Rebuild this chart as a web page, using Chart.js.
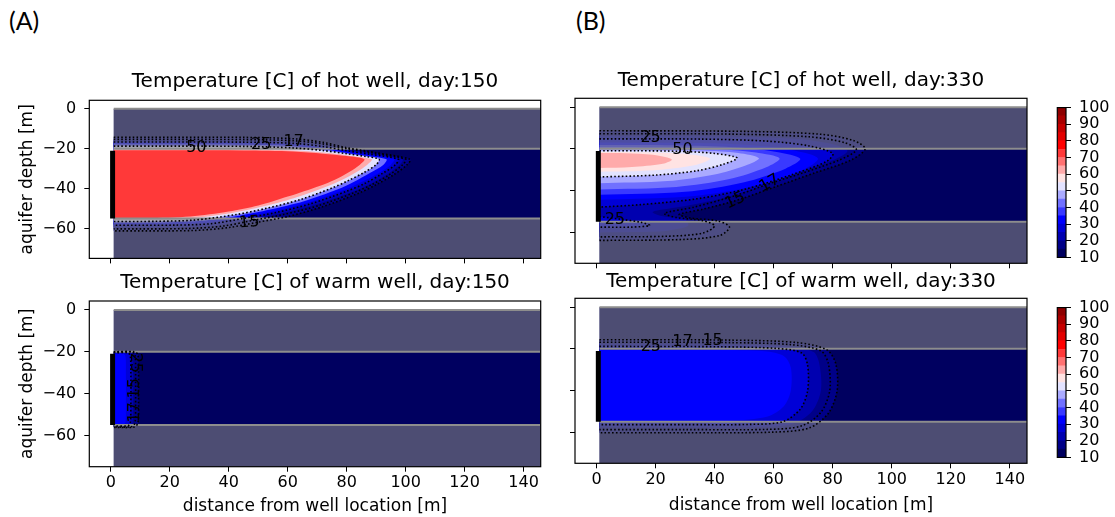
<!DOCTYPE html>
<html>
<head>
<meta charset="utf-8">
<script src="https://cdn.jsdelivr.net/npm/chart.js"></script>
<style>
  body { margin: 0; width: 1115px; height: 517px; background: #fff; position: relative; overflow: hidden; }
  canvas { position: absolute; }
  .tag { position: absolute; font-family: Lato, "Open Sans", sans-serif; font-size: 25px; color: #000; }
</style>
</head>
<body>
<div class="tag" style="left:9px; top:5px">(A)</div>
<div class="tag" style="left:576px; top:5px">(B)</div>
<canvas id="hot150" width="560" height="206" style="left:0px; top:70px"></canvas>
<canvas id="warm150" width="560" height="246" style="left:0px; top:271px"></canvas>
<canvas id="hot330" width="480" height="204" style="left:560px; top:69px"></canvas>
<canvas id="warm330" width="480" height="247" style="left:560px; top:270px"></canvas>
<canvas id="cbar1" width="67" height="185" style="left:1048px; top:90px"></canvas>
<canvas id="cbar2" width="67" height="185" style="left:1048px; top:290px"></canvas>
<script>
  // axis ticks and layer depths [m]
  const xTicks = [0, 20, 40, 60, 80, 100, 120, 140];
  const yTicks = [0, -20, -40, -60];
  const aquiferTop = -20;
  const aquiferBottom = -55;
  const wellTop = -21;
  const wellBottom = -55;

  // contour levels of the colour scale [C]
  const cbLevels = [10, 15, 20, 25, 30, 35, 40, 45, 50, 55, 60, 65, 70, 75, 80, 85, 90, 95, 100];
  const cbTicks = [10, 20, 30, 40, 50, 60, 70, 80, 90, 100];
  const dottedLevels = [15, 17, 25, 50];

  // hot well, day 150: outlines of T > level, [x, depth]
  const hot150Levels = [15, 17, 20, 25, 30, 40, 50, 60, 70];
  const hot150Outlines = [
    [[1,-14.2],[45,-14.3],[62,-15],[72,-16.8],[80,-19.5],[90,-22],[101.5,-25.3],[100.5,-28],[96,-33],[90,-38],[84,-42.3],[72,-49],[60,-54],[50,-56.8],[40,-59.5],[28,-61],[1,-61.2]],
    [[1,-15.3],[45,-15.4],[62,-16],[72,-17.6],[80,-20],[89,-22.2],[100,-25.3],[99,-28],[94.5,-33],[88.5,-38],[82.5,-42],[70.5,-48.5],[58.5,-53],[48,-56],[38,-58.8],[26,-60],[1,-60.2]],
    [[1,-15.9],[45,-16],[62,-16.6],[72,-18.2],[80,-20.4],[88.5,-22.4],[99,-25.3],[98,-28],[93.5,-33],[87.5,-38],[81.5,-41.8],[69.5,-48],[57.5,-52.5],[47,-55.5],[36,-58.2],[24,-59.3],[1,-59.4]],
    [[1,-16.6],[45,-16.7],[62,-17.3],[72,-18.9],[80,-21],[88,-22.8],[97.5,-25.3],[96.5,-28],[92,-32.5],[86,-37.5],[80,-41.3],[68,-47.5],[56,-52],[45.5,-54.8],[34,-57.6],[22,-58.3],[1,-58.4]],
    [[1,-17.1],[45,-17.2],[62,-17.9],[72,-19.5],[80,-21.5],[87.5,-23.1],[96,-25.3],[95,-28],[90.5,-32.5],[84.5,-37],[78.5,-41],[67,-47],[55,-51.3],[44.5,-54.3],[32,-57],[20,-57.7],[1,-57.8]],
    [[1,-17.9],[45,-18],[62,-18.7],[72,-20.2],[80,-22.1],[87,-23.6],[93.5,-25.3],[92.5,-28],[88,-32],[82.5,-36.5],[77,-40.3],[65.5,-46.3],[54,-50.5],[43.5,-53.6],[30,-56.3],[18,-57],[1,-57.1]],
    [[1,-18.7],[45,-18.8],[62,-19.6],[72,-20.9],[80,-22.5],[86.5,-23.9],[91,-25.3],[90,-28],[86,-31.8],[80.5,-36],[75,-39.7],[64,-45.6],[53,-49.8],[42.5,-53],[28,-55.8],[15,-56.4],[1,-56.5]],
    [[1,-20.3],[45,-20.4],[62,-20.9],[72,-21.9],[80,-23.2],[88.5,-25.3],[87,-28],[83.5,-31.5],[78.5,-35.5],[73,-39],[62,-44.8],[51.5,-49],[41,-52.2],[27,-54.8],[12,-55.4],[1,-55.5]],
    [[1,-20.8],[45,-20.9],[62,-21.4],[72,-22.5],[80,-23.7],[86,-25.3],[84.5,-28],[81,-31.5],[76,-35.5],[71,-38.5],[60,-44],[50,-48.5],[40,-51.5],[27,-54],[12,-54.9],[1,-55.1]]
  ];
  const hot150Labels = [['50', 29, -19.3, 0], ['25', 51, -18, 0], ['17', 62, -16.5, 0], ['15', 47, -57, -5]];

  // warm well, day 150
  const warm150Levels = [15, 17, 20, 25, 30];
  const warm150Outlines = [
    [[1,-20],[8,-20],[9.2,-21.5],[9.4,-30],[9.4,-45],[9.2,-54],[8,-56],[1,-56.2]],
    [[1,-20.1],[7.2,-20.1],[8.2,-21.5],[8.4,-30],[8.4,-45],[8.2,-54],[7.2,-55.8],[1,-56]],
    [[1,-20.3],[6.5,-20.3],[7.4,-21.7],[7.6,-30],[7.6,-45],[7.4,-54],[6.5,-55.6],[1,-55.8]],
    [[1,-20.5],[5.8,-20.5],[6.6,-22],[6.8,-30],[6.8,-45],[6.6,-54],[5.8,-55.4],[1,-55.5]],
    [[1,-21],[4.3,-21],[5,-22.5],[5.1,-30],[5.1,-45],[5,-53.5],[4.3,-55],[1,-55.1]]
  ];
  const warm150Labels = [['25', 8.2, -25.3, 90], ['15', 8.2, -37.5, -90], ['17', 8.2, -49, -90]];

  // hot well, day 330
  const hot330Levels = [15, 17, 20, 25, 25, 30, 35, 40, 45, 50, 55, 60];
  const hot330Outlines = [
    [[1,-11.3],[50,-11.6],[76,-13],[87,-16],[91,-20],[86,-25.5],[74,-31.5],[61,-38],[48,-44.5],[36,-49],[28,-51.5],[32,-53.3],[41,-54.6],[45,-57.5],[42,-61.5],[30,-63.5],[1,-64]],
    [[1,-12.7],[45,-12.9],[72,-14.2],[84,-17],[88,-20.5],[82,-25.5],[70,-31.5],[59,-36.5],[47,-42.5],[33,-48],[23,-51],[27,-53],[36,-54.5],[40,-57],[36,-60.5],[24,-62],[1,-62.3]],
    [[1,-13.9],[45,-14.1],[68,-15.3],[80,-17.8],[85,-21],[80,-25.5],[68,-32],[55,-38.5],[42,-44],[28,-48],[19,-50.3],[22,-52.3],[30,-54],[31,-57],[24,-59.3],[12,-60],[1,-60.2]],
    [[1,-15.2],[35,-15.3],[58,-16.3],[72,-18.6],[80,-22.2],[78,-26],[66,-32.5],[50,-39.5],[34,-44],[15,-46.8],[1,-48]],
    [[1,-52.5],[8,-53.8],[15,-55.3],[18,-56.8],[12,-57.6],[1,-57.6]],
    [[1,-17],[35,-17.2],[54,-18.4],[67,-20.8],[75,-24.6],[70,-30],[56,-37],[34,-42.5],[1,-44.5]],
    [[1,-18.2],[30,-18.4],[48,-19.4],[61,-21.5],[69,-24.8],[64,-29.5],[50,-36],[30,-40.6],[1,-42]],
    [[1,-19.2],[25,-19.4],[42,-20.2],[54,-21.8],[62,-24.6],[57.5,-28.8],[45,-34.5],[27,-38.3],[1,-39.5]],
    [[1,-20.2],[20,-20.3],[36,-20.8],[48,-22],[55,-24.5],[50.5,-28],[40,-32.3],[24,-35.5],[1,-36.5]],
    [[1,-20.9],[14,-20.9],[28,-21.2],[40,-22.2],[47.6,-24.4],[43,-27.4],[34,-30.5],[20,-32.6],[1,-33.5]],
    [[1,-21.5],[15,-21.6],[28,-22.2],[35,-23.3],[38.5,-24.8],[34,-27.6],[22,-30],[10,-30.8],[1,-31]],
    [[1,-22],[10,-22.1],[19,-22.8],[24,-24.2],[25.5,-25.3],[22,-27.3],[12,-28.7],[1,-29.2]]
  ];
  const hot330Labels = [['25', 18.3, -14.5, 0], ['50', 29.1, -20.5, 0], ['25', 6.2, -54.2, 0], ['15', 47, -44.9, -25], ['17', 58.6, -36.6, -30]];

  // warm well, day 330
  const warm330Levels = [15, 17, 20, 25, 30];
  const warm330Outlines = [
    [[1,-15.6],[45,-15.8],[68,-17],[78,-20.5],[81,-27],[81.5,-40],[78.5,-51],[72,-58],[60,-60],[30,-60.3],[1,-60.3]],
    [[1,-16.8],[45,-17],[66,-18],[76,-21],[78.5,-27],[79,-40],[76,-50.5],[69.5,-57],[58,-58.7],[30,-58.8],[1,-58.8]],
    [[1,-17.8],[45,-18],[64,-18.9],[73.5,-21.5],[75.5,-27.5],[76,-40],[73,-50],[66.5,-56],[55,-57.6],[30,-57.7],[1,-57.7]],
    [[1,-18.8],[42,-19],[61,-19.8],[69.5,-22],[71.5,-28],[71.5,-40],[69,-49],[63,-55],[52,-56.3],[30,-56.4],[1,-56.4]],
    [[1,-20.6],[40,-20.6],[57,-21.2],[63.5,-23.5],[65.8,-29],[65.8,-40],[63.5,-47.5],[58,-52.5],[45,-54.5],[20,-54.9],[1,-55]]
  ];
  const warm330Labels = [['25', 18.4, -19.2, 0], ['17', 29.1, -16.8, 0], ['15', 39.3, -16.3, 0]];

  // seismic colormap sampled at the middle of each 5 C band
  const seismicBins = [
    'rgb(0,0,96)', 'rgb(0,0,136)', 'rgb(0,0,176)', 'rgb(0,0,215)', 'rgb(0,0,255)',
    'rgb(57,57,255)', 'rgb(113,113,255)', 'rgb(170,170,255)', 'rgb(227,227,255)',
    'rgb(255,227,227)', 'rgb(255,170,170)', 'rgb(255,113,113)', 'rgb(255,57,57)',
    'rgb(255,0,0)', 'rgb(227,0,0)', 'rgb(198,0,0)', 'rgb(170,0,0)', 'rgb(142,0,0)'
  ];
  const clayShade = 'rgba(128,128,128,0.6)';

  const xMin = -7.3, xMax = 145.8, yMin = -75, yMax = 4.3;

  Chart.defaults.font.family = '"DejaVu Sans"';
  Chart.defaults.color = '#000';

  const binColor = lv => seismicBins[Math.floor((lv - 10) / 5)];
  const minus = v => (v < 0 ? '\u2212' + Math.abs(v) : String(v));
  const toXY = pts => pts.map(p => ({ x: p[0], y: p[1] }));

  function shape(pts, color, tension) {
    return { data: toXY(pts), showLine: true, fill: 'shape', backgroundColor: color,
      borderColor: 'rgba(0,0,0,0)', borderWidth: 0, pointRadius: 0, tension: tension };
  }
  function line(pts, color, width, dash) {
    return { data: toXY(pts), showLine: true, fill: false, borderColor: color, borderWidth: width,
      borderDash: dash || [], borderCapStyle: 'butt', pointRadius: 0, tension: dash ? 0.3 : 0 };
  }

  function panelDatasets(levels, outlines) {
    const sets = [];
    sets.push(shape([[1, 0], [xMax, 0], [xMax, yMin], [1, yMin]], binColor(10), 0));
    levels.map((lv, i) => ({ lv, pts: outlines[i] }))
      .sort((a, b) => a.lv - b.lv)
      .forEach(o => sets.push(shape(o.pts, binColor(o.lv), 0.3)));
    sets.push(shape([[1, 0], [xMax, 0], [xMax, aquiferTop], [1, aquiferTop]], clayShade, 0));
    sets.push(shape([[1, aquiferBottom], [xMax, aquiferBottom], [xMax, yMin], [1, yMin]], clayShade, 0));
    [0, aquiferTop, aquiferBottom].forEach(d => sets.push(line([[1, d], [xMax, d]], '#8d8d8d', 2)));
    levels.forEach((lv, i) => {
      if (dottedLevels.includes(lv)) sets.push(line(outlines[i], '#000', 1.6, [1.6, 2.2]));
    });
    sets.push(line([[0.6, wellTop], [0.6, wellBottom]], '#000', 5));
    sets.forEach((s, i) => { s.order = -i; });
    return sets;
  }

  const frame = {
    id: 'frame',
    afterDraw(chart) {
      const { ctx, chartArea: a } = chart;
      ctx.save();
      ctx.strokeStyle = '#000';
      ctx.lineWidth = 1.2;
      ctx.strokeRect(a.left, a.top, a.right - a.left, a.bottom - a.top);
      ctx.restore();
    }
  };

  function labelsPlugin(items) {
    return {
      id: 'contourLabels',
      afterDatasetsDraw(chart) {
        const { ctx, scales: { x, y } } = chart;
        ctx.save();
        ctx.font = '16px "DejaVu Sans"';
        ctx.fillStyle = '#000';
        ctx.textAlign = 'center';
        ctx.textBaseline = 'middle';
        items.forEach(([t, vx, vy, rot]) => {
          ctx.save();
          ctx.translate(x.getPixelForValue(vx), y.getPixelForValue(vy));
          ctx.rotate(rot * Math.PI / 180);
          ctx.fillText(t, 0, 0);
          ctx.restore();
        });
        ctx.restore();
      }
    };
  }

  function panel(id, o) {
    new Chart(document.getElementById(id), {
      type: 'scatter',
      data: { datasets: panelDatasets(o.levels, o.outlines) },
      options: {
        responsive: false,
        animation: false,
        layout: { padding: { left: 0, right: o.padRight, top: 0, bottom: 0 } },
        plugins: {
          legend: { display: false },
          tooltip: { enabled: false },
          title: { display: true, text: o.title, fullSize: false, color: '#000',
            font: { size: 20, weight: 'normal' }, padding: { top: 0, bottom: o.titleGap } }
        },
        scales: {
          x: {
            type: 'linear', min: xMin, max: xMax,
            afterBuildTicks: s => { s.ticks = xTicks.map(v => ({ value: v })); },
            afterFit: s => { s.height = o.xH; },
            grid: { drawOnChartArea: false, tickLength: 5, color: '#000' },
            border: { display: false },
            ticks: { display: o.xLabels, font: { size: 16 }, padding: 2, maxRotation: 0, autoSkip: false },
            title: { display: o.xLabels, text: 'distance from well location [m]', font: { size: 17 },
              padding: { top: 0, bottom: o.xTitlePad || 0 } }
          },
          y: {
            type: 'linear', min: yMin, max: yMax,
            afterBuildTicks: s => { s.ticks = yTicks.map(v => ({ value: v })); },
            afterFit: s => { s.width = o.yW; },
            grid: { drawOnChartArea: false, tickLength: 5, color: '#000' },
            border: { display: false },
            ticks: { display: o.yLabels, font: { size: 16 }, padding: 8, autoSkip: false, callback: v => minus(v) },
            title: { display: o.yLabels, text: 'aquifer depth [m]', font: { size: 17 },
              padding: { top: 17.8, bottom: 0 } }
          }
        }
      },
      plugins: [frame, labelsPlugin(o.labels)]
    });
  }

  function colorbar(id, padTop, padBottom) {
    new Chart(document.getElementById(id), {
      type: 'bar',
      data: {
        labels: [''],
        datasets: cbLevels.slice(0, -1).map((lo, i) => ({
          data: [[lo, cbLevels[i + 1]]], backgroundColor: seismicBins[i], borderWidth: 0,
          barPercentage: 1, categoryPercentage: 1, grouped: false
        }))
      },
      options: {
        responsive: false,
        animation: false,
        layout: { padding: { left: 9.3, right: 0, top: padTop, bottom: padBottom } },
        plugins: { legend: { display: false }, tooltip: { enabled: false } },
        scales: {
          x: { display: false },
          y: {
            position: 'right', min: 10, max: 100,
            afterBuildTicks: s => { s.ticks = cbTicks.map(v => ({ value: v })); },
            afterFit: s => { s.width = 49; },
            grid: { drawOnChartArea: false, tickLength: 5, color: '#000' },
            border: { display: false },
            ticks: { font: { size: 16 }, padding: 8, autoSkip: false }
          }
        }
      },
      plugins: [frame]
    });
  }

  panel('hot150', { levels: hot150Levels, outlines: hot150Outlines, labels: hot150Labels,
    title: 'Temperature [C] of hot well, day:150', titleGap: 6.3, padRight: 19.3, yW: 89.3, xH: 10,
    xLabels: false, yLabels: true });
  panel('warm150', { levels: warm150Levels, outlines: warm150Outlines, labels: warm150Labels,
    title: 'Temperature [C] of warm well, day:150', titleGap: 6, padRight: 19.3, yW: 89.3, xH: 50.3,
    xLabels: true, yLabels: true, xTitlePad: 0 });
  panel('hot330', { levels: hot330Levels, outlines: hot330Outlines, labels: hot330Labels,
    title: 'Temperature [C] of hot well, day:330', titleGap: 5.3, padRight: 13, yW: 15, xH: 9.7,
    xLabels: false, yLabels: false });
  panel('warm330', { levels: warm330Levels, outlines: warm330Outlines, labels: warm330Labels,
    title: 'Temperature [C] of warm well, day:330', titleGap: 4.3, padRight: 13, yW: 15, xH: 53.7,
    xLabels: true, yLabels: false, xTitlePad: 1.5 });

  colorbar('cbar1', 6.7, 11.7);
  colorbar('cbar2', 7.3, 11.7);
</script>
</body>
</html>
